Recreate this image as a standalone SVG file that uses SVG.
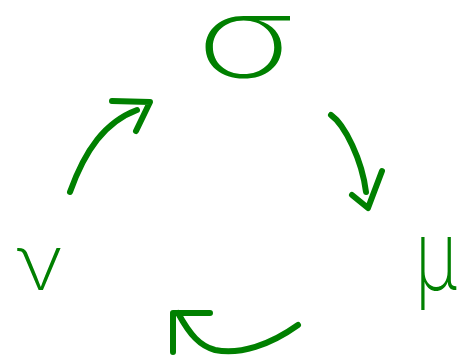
<svg xmlns="http://www.w3.org/2000/svg" width="471" height="363" viewBox="0 0 471 363">
<style>
.lbl{fill:#008000;font-family:Inter,"DejaVu Sans",sans-serif;font-weight:200}
.c{fill:none;stroke:#008000;stroke-width:6;stroke-linecap:round;stroke-linejoin:round}
</style>
<rect width="471" height="363" fill="#fff"/>
<g id="sigma"><text class="lbl" transform="translate(196,77) scale(1.45,1)" font-size="112">σ</text></g>
<g id="mu"><text class="lbl" transform="translate(436,290) scale(0.75,1)" font-size="97" text-anchor="middle">μ</text></g>
<g id="nu"><text class="lbl" transform="translate(39,290) scale(1.1,1)" font-size="77" text-anchor="middle">ν</text></g>
<g id="connectors">
<path class="c" d="M70,192 C85,150 105,122 137,110"/>
<path class="c" d="M112,101 L150,102 L136,131"/>
<path class="c" d="M331,115 C345,125 362,160 366,192"/>
<path class="c" d="M352,195 L368,208 L382,171"/>
<path class="c" d="M298,325 C270,345 240,355 215,350 C200,346 190,335 178,313"/>
<path class="c" d="M173,352 L173,313 L210,313"/>
</g>
</svg>
